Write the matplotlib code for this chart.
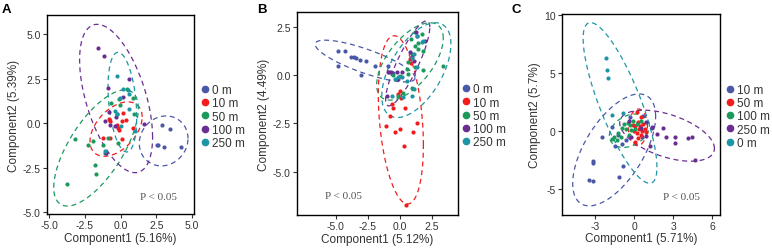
import numpy as np
import matplotlib
matplotlib.use("Agg")
from matplotlib import pyplot as plt
from matplotlib.lines import Line2D

plt.rcParams['font.family'] = ['Liberation Sans', 'DejaVu Sans']
plt.rcParams['axes.unicode_minus'] = False

colors = ["#4a58a8", "#f21c1c", "#1c9a5c", "#6a2d92", "#1e95a5"]

# ---- panel A ----
a_labels = ["0 m", "10 m", "50 m", "100 m", "250 m"]
a_x = [
    [2.90, 3.43, 2.51, 2.62, 3.04, 4.25],
    [-0.79, -0.74, -0.16, -0.09, 0.37, 0.07, 0.84, -1.21, -0.74, 0.07, -0.28, 0.15],
    [-3.76, -3.18, -2.32, -1.97, -1.83, -1.74, -1.21, -1.07, -0.86, -0.16, -0.05, -0.12, -0.67, 0.42, 0.84, 0.95],
    [-1.60, -1.16, 0.60, -0.86, 0.14, -0.79, -0.23, -0.35, -1.07, -0.39, 1.62, -0.74, -1.02],
    [-0.28, 0.19, 0.49, 0.58, 0.60, -0.05, -0.39, 0.02, 1.00, -1.07, -0.28],
]
a_y = [
    [-0.11, -0.30, -1.21, -1.21, -1.31, -1.35],
    [0.26, 0.13, -0.24, -0.37, 0.19, 0.13, -0.24, -0.80, -0.80, -0.86, -0.11, 0.55],
    [-3.38, -0.86, -1.21, -0.99, -2.36, -2.82, -1.21, -1.64, -0.80, -1.08, 1.05, 1.38, 1.16, 1.91, 1.44, 0.50],
    [4.22, 3.78, 2.47, 2.00, 1.48, 0.64, 0.50, 0.37, 0.13, -0.15, -0.06, -0.07, -1.64],
    [2.65, 1.94, 1.87, 1.63, 0.82, 1.42, 0.69, -0.15, -0.43, -1.57, 0.50],
]
# ellipse extents: x range, y range, tilt (y at rightmost point relative to half height)
a_ex = [(1.30, 4.71), (-2.15, 1.50), (-4.69, 1.23), (-2.88, 2.23), (-0.89, 1.12)]
a_ey = [(-2.39, 0.41), (-1.85, 1.20), (-4.64, 1.87), (-2.77, 5.55), (-1.61, 3.98)]
a_er = [0.10, 0.45, 0.68, -0.52, -0.30]

# ---- panel B ----
b_labels = ["0 m", "10 m", "50 m", "100 m", "250 m"]
b_x = [
    [-4.8, -4.3, -3.8, -3.6, -3.4, -3.1, -2.6, -4.8, -3.0, -1.9, -0.8, -0.9, -0.5],
    [0.03, -0.10, 0.10, -0.63, -0.50, 0.42, -0.76, -1.09, 0.03, -0.36, 1.02, 1.33, 0.34, 0.49, 0.81, 0.90],
    [1.20, 1.72, 0.89, 1.41, 1.20, 1.46, 1.85, 0.94, 3.41, 0.68, 0.55, 1.20, 1.85, -0.49, 0.03, 0.68, 0.29, -0.16, 0.99],
    [1.28, 1.35, 1.98, 0.81, 0.94, 1.15, 0.16, -0.23, -0.68, -0.94, -0.10, -1.02],
    [1.33, 1.85, 1.72, 0.94, 1.15, 1.33, 0.16, -0.36, -0.10, 0.55, 1.15, 0.94, 0.29, -0.63],
]
b_y = [
    [1.26, 1.22, 0.95, 0.91, 0.86, 0.79, 0.71, 0.48, 0.00, 0.48, 0.14, 0.48, 0.10],
    [-0.81, -0.98, -1.20, -1.50, -1.70, -1.71, -2.10, -2.62, -2.79, -2.97, -2.97, -2.50, -3.66, -6.71, 0.83, 0.60],
    [2.24, 2.12, 1.86, 1.66, 1.52, 1.34, 1.26, 1.09, 0.48, 0.66, 0.31, 0.40, 0.26, 0.00, -0.07, 0.05, -0.93, -1.10, -0.69],
    [2.24, 2.00, 1.76, 1.17, 0.91, 0.74, 0.14, 0.14, 0.17, 0.17, -0.21, -1.07],
    [2.00, 1.74, 1.69, 0.86, 1.09, 0.40, -0.12, -0.21, -0.12, -0.29, -0.72, -1.07, -1.16, -1.07],
]
b_ex = [(-6.60, 1.20), (-1.67, 1.85), (-1.80, 3.40), (-1.10, 2.35), (-1.40, 4.00)]
b_ey = [(-0.36, 1.80), (-6.67, 2.03), (-1.30, 2.70), (-1.60, 2.80), (-2.20, 2.70)]
b_er = [-0.80, -0.30, 0.60, 0.85, 0.55]

# ---- panel C ----
c_labels = ["10 m", "50 m", "100 m", "250 m", "0 m"]
c_x = [
    [-2.47, -3.11, -3.11, -3.42, -3.11, -1.12, -0.82, -1.45, -0.94, -1.66, -1.20, -0.60, 0.60, -0.30, 0.70, 1.40],
    [0.2, 0.5, 0.3, 0.7, 0.1, 0.4, 0.6, 0.2, 0.5, 0.8, 0.0, -0.1, 0.3, 0.1, 0.9, 0.45],
    [-1.5, -1.2, -1.7, -0.9, -0.5, -0.3, -0.1, 0.2, -0.6, -0.2, -1.0, -0.4, 0.1, -0.8, 0.5, -1.3],
    [1.35, 1.73, 1.22, 2.45, 3.14, 3.14, 4.16, 4.41, 4.67, 2.20, 0.90, 0.50, -0.40, 0.90, -0.20],
    [-2.17, -2.09, -2.02, -1.71, -0.82],
]
c_y = [
    [-0.55, -2.56, -2.75, -4.20, -4.28, -3.94, -3.05, -1.26, -1.12, 0.32, -0.30, -0.80, -0.50, 1.20, 1.30, 0.30],
    [1.6, 1.2, 0.8, 0.6, 0.4, 0.2, 0.0, -0.2, -0.3, 0.2, 0.0, 0.5, -0.6, -0.9, -0.1, 0.45],
    [-0.5, -0.2, -0.7, 0.3, 0.7, 0.5, 0.9, 0.6, 0.2, 0.1, -0.5, -0.3, 0.2, 0.6, 0.9, -0.8],
    [0.32, -0.26, -1.26, -0.55, -0.55, -1.03, -0.63, -0.55, -2.47, 0.25, -0.40, 0.30, 0.90, 0.80, -0.50],
    [6.26, 5.29, 4.57, 1.41, 1.52],
]
c_ex = [(-4.70, 1.65), (-0.43, 1.02), (-1.89, 1.17), (-1.10, 6.15), (-3.90, 1.75)]
c_ey = [(-6.45, 3.20), (-1.26, 1.90), (-1.41, 1.47), (-2.60, 1.80), (-4.50, 9.35)]
c_er = [0.60, 0.05, 0.30, -0.50, -0.80]

fig = plt.figure(figsize=(7.72, 2.53), dpi=100)


def draw_panel(rect, xs, ys, labels, ex, ey, er, xlim, ylim, xticks, yticks,
               xlab, ylab, ptxt, leg_x, letter, letter_x):
    ax = fig.add_axes(rect)
    t = np.linspace(0, 2 * np.pi, 200)
    for i in range(len(labels)):
        ax.scatter(xs[i], ys[i], s=9, color=colors[i], linewidths=0, zorder=3)
        cx = (ex[i][0] + ex[i][1]) / 2
        a = (ex[i][1] - ex[i][0]) / 2
        cy = (ey[i][0] + ey[i][1]) / 2
        b = (ey[i][1] - ey[i][0]) / 2
        phi = np.arccos(er[i])
        ax.plot(cx + a * np.cos(t), cy + b * np.cos(t - phi), color=colors[i],
                lw=0.9, dashes=(4, 3), zorder=2)
    ax.set_xlim(xlim)
    ax.set_ylim(ylim)
    ax.set_xticks(xticks)
    ax.set_yticks(yticks)
    ax.tick_params(labelsize=7.5, length=3, width=0.8, colors="#333333", pad=1.5)
    for s in ax.spines.values():
        s.set_linewidth(1.0)
    ax.set_xlabel(xlab, fontsize=8.5, color="#333333", labelpad=1)
    ax.set_ylabel(ylab, fontsize=8.5, color="#333333", labelpad=2)
    ax.text(ptxt[0], ptxt[1], "P < 0.05", transform=ax.transAxes, fontsize=8,
            family="Liberation Serif", color="#555555", ha="center", va="center")
    handles = [Line2D([], [], marker="o", ls="", ms=4.5, color=c) for c in colors]
    ax.legend(handles, labels, loc="center left", bbox_to_anchor=(leg_x, 0.49),
              frameon=False, fontsize=8.5, handlelength=0.6, handletextpad=0.3,
              labelspacing=0.1, borderpad=0, borderaxespad=0,
              labelcolor="#333333")
    fig.text(letter_x, 0.985, letter, fontsize=9.5, weight="bold", va="top")
    return ax


draw_panel([0.0609, 0.150, 0.1904, 0.7866], a_x, a_y, a_labels, a_ex, a_ey, a_er,
           (-5.16, 5.13), (-5.09, 6.07), [-5, -2.5, 0, 2.5, 5], [-5, -2.5, 0, 2.5, 5],
           "Component1 (5.16%)", "Component2 (5.39%)", (0.755, 0.09), 1.05, "A", 0.002)
draw_panel([0.3847, 0.1462, 0.2082, 0.8012], b_x, b_y, b_labels, b_ex, b_ey, b_er,
           (-8.02, 4.53), (-7.24, 3.24), [-5, -2.5, 0, 2.5], [-5, -2.5, 0, 2.5],
           "Component1 (5.12%)", "Component2 (4.49%)", (0.286, 0.094), 1.03, "B", 0.333)
draw_panel([0.7276, 0.1474, 0.2051, 0.7933], c_x, c_y, c_labels, c_ex, c_ey, c_er,
           (-5.54, 6.58), (-7.21, 10.09), [-3, 0, 3, 6], [-5, 0, 5, 10],
           "Component1 (5.71%)", "Component2 (5.7%)", (0.754, 0.093), 1.04, "C", 0.663)

for ax in fig.axes[:2]:
    ax.xaxis.set_major_formatter(matplotlib.ticker.FormatStrFormatter("%.1f"))
    ax.yaxis.set_major_formatter(matplotlib.ticker.FormatStrFormatter("%.1f"))

fig.savefig("out.png", dpi=100)
